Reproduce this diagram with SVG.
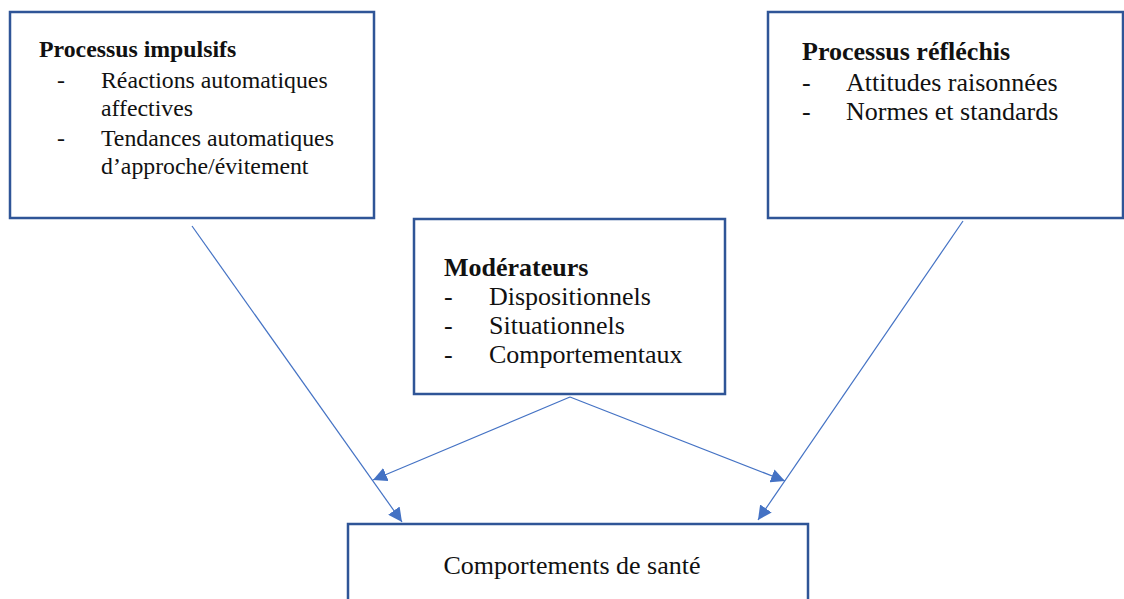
<svg xmlns="http://www.w3.org/2000/svg" width="1124" height="599" viewBox="0 0 1124 599">
<defs>
<style>
.box{fill:#fff;stroke:#2F5597;stroke-width:2.5}
.t{font-family:"Liberation Serif","Times New Roman",serif;font-size:26px;fill:#111}
.s{font-size:23.8px}
.b{font-weight:bold}
.c{stroke:#4472C4;stroke-width:1.2;fill:none;marker-end:url(#ah)}
</style>
<marker id="ah" viewBox="0 0 10 10" refX="10" refY="5" markerWidth="14" markerHeight="14" markerUnits="userSpaceOnUse" orient="auto">
<path d="M0,0 L10,5 L0,10 z" fill="#4472C4"/>
</marker>
</defs>
<rect width="1124" height="599" fill="#fff"/>
<g id="connectors">
<line class="c" x1="192" y1="226" x2="402" y2="522"/>
<line class="c" x1="963" y1="221" x2="758" y2="520"/>
<line class="c" x1="570" y1="397" x2="373" y2="480"/>
<line class="c" x1="570" y1="397" x2="785" y2="481"/>
</g>
<g id="impulsifs">
<rect class="box" x="10" y="12" width="364" height="206"/>
<text class="t s b" x="39" y="57">Processus impulsifs</text>
<text class="t s" x="57" y="88">-</text>
<text class="t s" x="101" y="88">Réactions automatiques</text>
<text class="t s" x="101" y="116">affectives</text>
<text class="t s" x="57" y="146">-</text>
<text class="t s" x="101" y="146">Tendances automatiques</text>
<text class="t s" x="101" y="174">d’approche/évitement</text>
</g>
<g id="reflechis">
<rect class="box" x="768" y="12" width="355" height="206"/>
<text class="t b" x="802" y="60">Processus réfléchis</text>
<text class="t" x="802" y="91">-</text>
<text class="t" x="846" y="91">Attitudes raisonnées</text>
<text class="t" x="802" y="120">-</text>
<text class="t" x="846" y="120">Normes et standards</text>
</g>
<g id="moderateurs">
<rect class="box" x="414" y="219" width="311" height="175"/>
<text class="t b" x="444" y="276">Modérateurs</text>
<text class="t" x="444" y="305">-</text>
<text class="t" x="489" y="305">Dispositionnels</text>
<text class="t" x="444" y="334">-</text>
<text class="t" x="489" y="334">Situationnels</text>
<text class="t" x="444" y="363">-</text>
<text class="t" x="489" y="363">Comportementaux</text>
</g>
<g id="comportements">
<rect class="box" x="348" y="524" width="460" height="90"/>
<text class="t" x="572" y="574" text-anchor="middle">Comportements de santé</text>
</g>
</svg>
